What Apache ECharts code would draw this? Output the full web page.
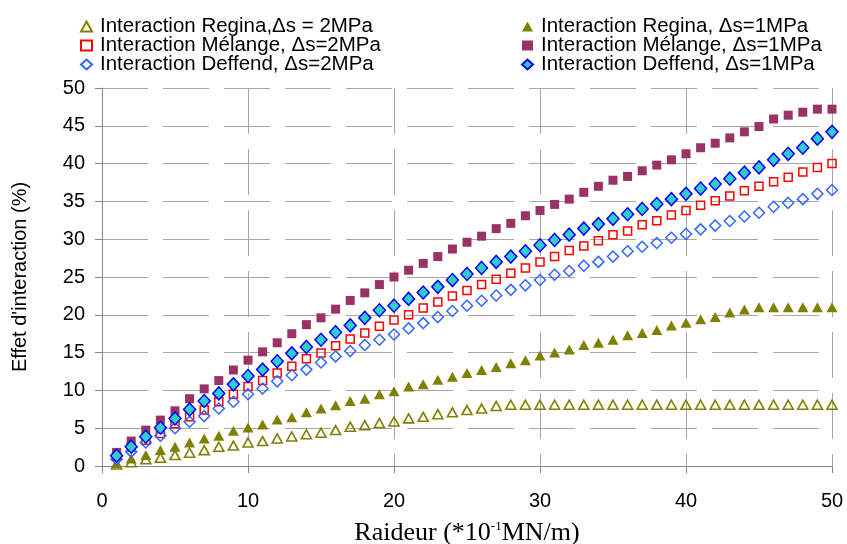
<!DOCTYPE html>
<html>
<head>
<meta charset="utf-8">
<script src="https://cdn.jsdelivr.net/npm/echarts@6/dist/echarts.min.js"></script>
<style>html,body{margin:0;padding:0;background:#fff}#c{width:847px;height:544px}</style>
</head>
<body>
<div id="c"></div>
<script>
var xValues = [1,2,3,4,5,6,7,8,9,10,11,12,13,14,15,16,17,18,19,20,21,22,23,24,25,26,27,28,29,30,31,32,33,34,35,36,37,38,39,40,41,42,43,44,45,46,47,48,49,50];
var seriesNames = ['Interaction Regina,\u0394s = 2MPa','Interaction Regina, \u0394s=1MPa','Interaction M\u00e9lange, \u0394s=2MPa','Interaction M\u00e9lange, \u0394s=1MPa','Interaction Deffend, \u0394s=2MPa','Interaction Deffend, \u0394s=1MPa'];
var regina2 = [0.2,0.5,0.9,1.1,1.45,1.75,2.1,2.55,2.7,3.1,3.3,3.65,3.9,4.2,4.4,4.75,5.2,5.4,5.7,5.9,6.3,6.5,6.85,7.1,7.4,7.6,7.95,8.1,8.1,8.1,8.1,8.1,8.1,8.1,8.1,8.1,8.1,8.1,8.1,8.1,8.1,8.1,8.1,8.1,8.1,8.1,8.1,8.1,8.1,8.1];
var regina1 = [0.4,1.0,1.45,2.1,2.55,3.1,3.65,4.0,4.65,5.1,5.5,6.15,6.45,7.1,7.6,8.05,8.6,8.9,9.5,9.9,10.5,10.8,11.4,11.8,12.3,12.7,13.1,13.6,14.0,14.6,15.0,15.4,16.0,16.3,16.7,17.3,17.6,18.0,18.6,18.95,19.4,19.7,20.3,20.7,21.0,21.0,21.0,21.0,21.0,21.0];
var melange2 = [1.3,2.5,3.4,4.3,5.6,6.5,7.4,8.5,9.5,10.5,11.3,12.3,13.2,14.2,14.95,15.9,16.8,17.6,18.5,19.3,20.0,20.9,21.7,22.5,23.2,24.0,24.7,25.5,26.2,27.0,27.7,28.5,29.1,29.8,30.6,31.1,31.9,32.45,33.2,33.8,34.5,35.1,35.7,36.4,37.0,37.6,38.2,38.9,39.5,40.0];
var melange1 = [1.8,3.3,4.75,6.07,7.3,8.9,10.2,11.3,12.7,14.0,15.1,16.3,17.5,18.7,19.6,20.75,21.9,22.9,24.0,25.0,25.9,26.8,27.7,28.7,29.6,30.4,31.4,32.1,33.1,33.8,34.6,35.3,36.2,37.0,37.8,38.3,39.05,39.8,40.5,41.3,42.1,42.7,43.4,44.2,44.9,45.9,46.4,46.8,47.2,47.2];
var deffend2 = [0.9,1.9,3.1,4.0,5.0,5.85,6.6,7.6,8.5,9.5,10.25,11.2,12.0,12.75,13.7,14.5,15.2,16.0,16.7,17.4,18.2,18.9,19.7,20.5,21.2,21.85,22.55,23.3,23.9,24.6,25.3,25.8,26.5,27.0,27.7,28.4,29.0,29.5,30.2,30.7,31.3,31.8,32.4,33.0,33.5,34.3,34.8,35.3,36.0,36.5];
var deffend1 = [1.36,2.55,3.87,5.06,6.29,7.48,8.6,9.6,10.8,11.9,12.75,13.85,14.9,15.75,16.7,17.7,18.6,19.6,20.6,21.2,22.1,22.95,23.7,24.6,25.4,26.2,27.0,27.7,28.4,29.2,29.9,30.6,31.4,32.0,32.7,33.3,34.0,34.65,35.3,36.0,36.7,37.3,38.0,38.8,39.5,40.5,41.3,42.1,43.3,44.2];
var yTicks = {min:0, max:50, interval:5};
var xTicks = {min:0, max:50, interval:10};

function pairs(arr){ return xValues.map(function(x,i){ return [x, arr[i]]; }); }
var SANS = 'Liberation Sans, Arial, sans-serif';
var SERIF = 'Liberation Serif, Times New Roman, serif';
var chart = echarts.init(document.getElementById('c'), null, {renderer:'canvas'});
var gridLine = {show:true, lineStyle:{color:'#a6a6a6', width:1, type:[46,15]}};
var legendBase = {orient:'vertical', top:11, itemGap:-2, itemWidth:11, itemHeight:10,
  textStyle:{fontFamily:SANS, fontSize:20.5, color:'#000', lineHeight:19, padding:[0,0,0,3]}};
chart.setOption({
  animation:false,
  backgroundColor:'#fff',
  legend:[
    Object.assign({left:75, data:[seriesNames[0],seriesNames[2],seriesNames[4]]}, legendBase),
    Object.assign({left:516, data:[seriesNames[1],seriesNames[3],seriesNames[5]]}, legendBase)
  ],
  grid:{left:102, right:15, top:88, bottom:78, containLabel:false, outerBoundsMode:'none'},
  xAxis:{type:'value', min:xTicks.min, max:xTicks.max, interval:xTicks.interval,
    axisLine:{show:true, onZero:false, lineStyle:{color:'#888', width:1}},
    axisTick:{show:true, length:7, lineStyle:{color:'#888'}},
    axisLabel:{fontFamily:SANS, fontSize:20, color:'#000', margin:25},
    splitLine:gridLine,
    name:'Raideur (*10{sup|-1}MN/m)', nameLocation:'middle', nameGap:54,
    nameTextStyle:{fontFamily:SERIF, fontSize:26, color:'#000',
      rich:{sup:{fontFamily:SERIF, fontSize:13, color:'#000', verticalAlign:'top', padding:[0,0,8,0]}}}
  },
  yAxis:{type:'value', min:yTicks.min, max:yTicks.max, interval:yTicks.interval,
    axisLine:{show:true, lineStyle:{color:'#888', width:1}},
    axisTick:{show:true, length:7, lineStyle:{color:'#888'}},
    axisLabel:{fontFamily:SANS, fontSize:20, color:'#000', margin:17},
    splitLine:gridLine,
    name:"Effet d'interaction (%)", nameLocation:'middle', nameGap:72, nameRotate:90,
    nameTextStyle:{fontFamily:SANS, fontSize:20, color:'#000'}
  },
  series:[
    {name:seriesNames[0], type:'scatter', data:pairs(regina2), symbol:'triangle', symbolSize:[10,9],
      itemStyle:{opacity:1, color:'rgba(255,255,255,0)', borderColor:'#808000', borderWidth:1.6}},
    {name:seriesNames[1], type:'scatter', data:pairs(regina1), symbol:'triangle', symbolSize:[11,10],
      itemStyle:{opacity:1, color:'#808000'}},
    {name:seriesNames[2], type:'scatter', data:pairs(melange2), symbol:'rect', symbolSize:8,
      itemStyle:{opacity:1, color:'rgba(255,255,255,0)', borderColor:'#ff0000', borderWidth:1.5}},
    {name:seriesNames[3], type:'scatter', data:pairs(melange1), symbol:'rect', symbolSize:9,
      itemStyle:{opacity:1, color:'#993366'}},
    {name:seriesNames[4], type:'scatter', data:pairs(deffend2), symbol:'diamond', symbolSize:[11,11],
      itemStyle:{opacity:1, color:'rgba(255,255,255,0)', borderColor:'#3366ff', borderWidth:1.5}},
    {name:seriesNames[5], type:'scatter', data:pairs(deffend1), symbol:'diamond', symbolSize:[12,13],
      itemStyle:{opacity:1, color:'#33cccc', borderColor:'#0000ff', borderWidth:1.5}}
  ]
});
</script>
</body>
</html>
